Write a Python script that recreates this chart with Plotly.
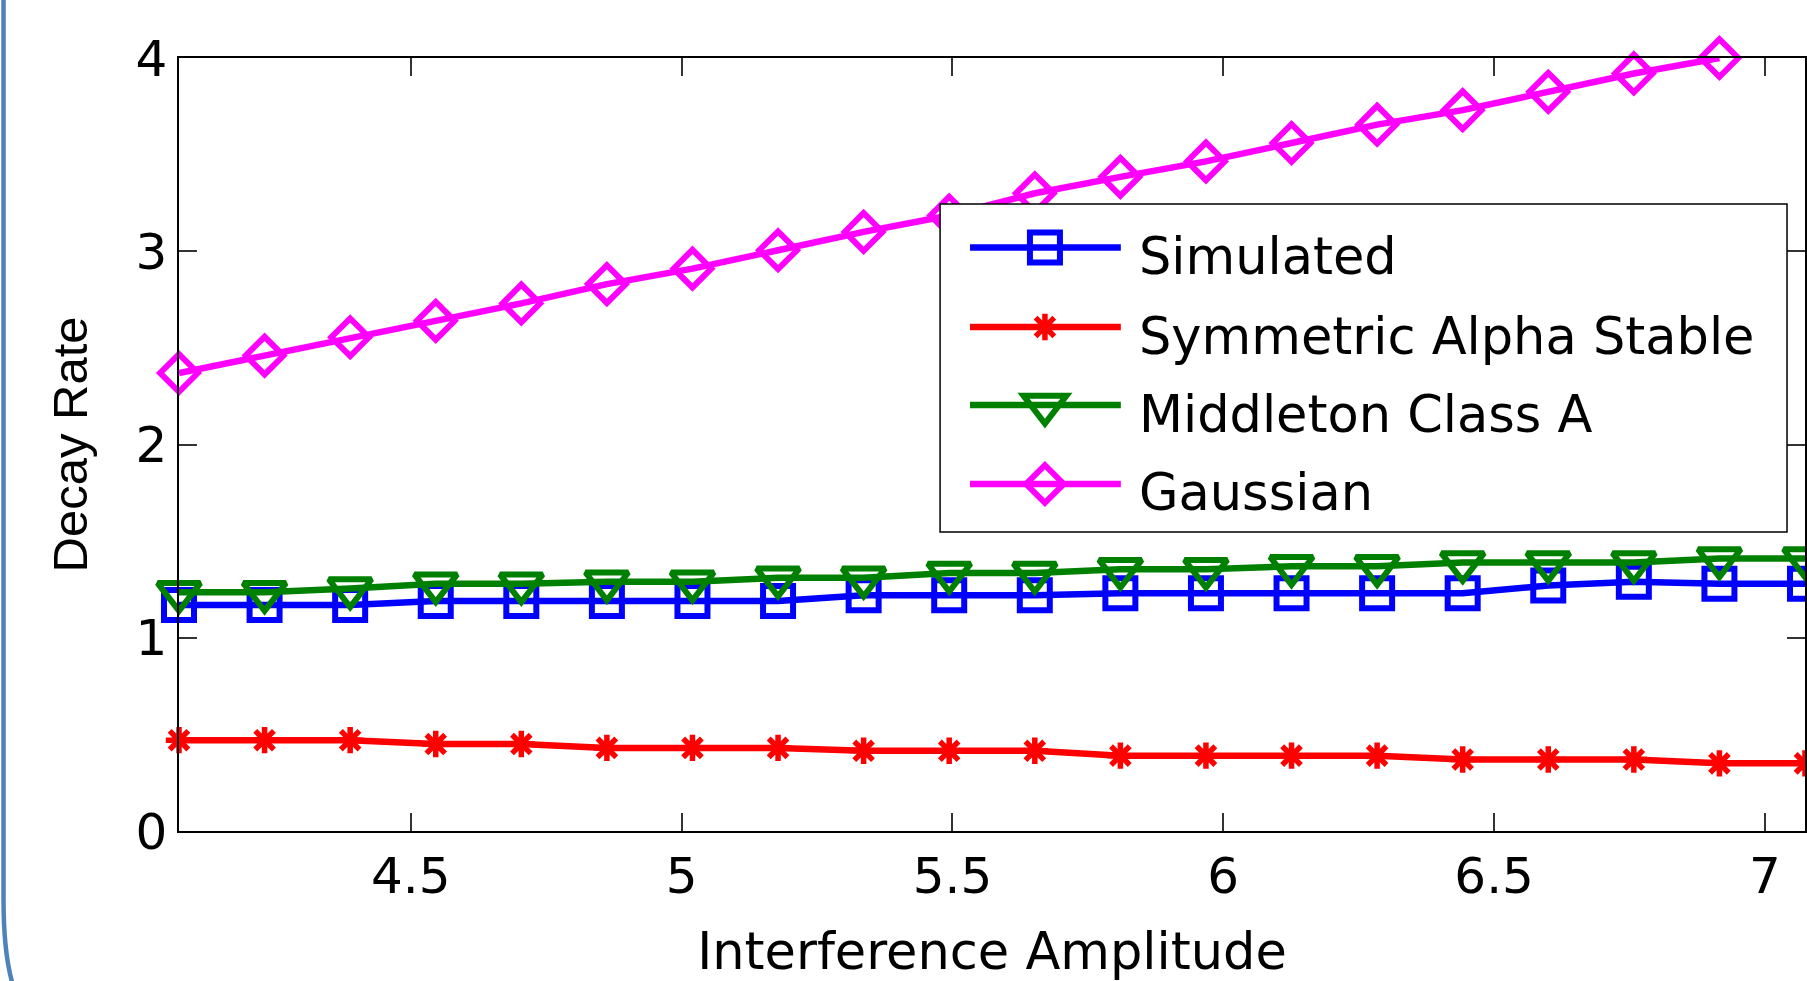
import plotly.graph_objects as go

# ---------------- data ----------------
amplitude = [4.072, 4.230, 4.388, 4.546, 4.704, 4.862, 5.020, 5.178, 5.336, 5.494,
             5.652, 5.810, 5.968, 6.126, 6.284, 6.442, 6.600, 6.758, 6.916, 7.074]
simulated = [1.17, 1.17, 1.17, 1.19, 1.19, 1.19, 1.19, 1.19, 1.22, 1.22,
             1.22, 1.23, 1.23, 1.23, 1.23, 1.23, 1.27, 1.29, 1.28, 1.28]
sym_alpha_stable = [0.47, 0.47, 0.47, 0.45, 0.45, 0.43, 0.43, 0.43, 0.415, 0.415,
                    0.415, 0.39, 0.39, 0.39, 0.39, 0.37, 0.37, 0.37, 0.35, 0.35]
middleton_a = [1.235, 1.235, 1.255, 1.28, 1.28, 1.29, 1.29, 1.31, 1.31, 1.335,
               1.335, 1.355, 1.355, 1.37, 1.37, 1.39, 1.39, 1.39, 1.41, 1.41]
gaussian = [2.37, 2.46, 2.555, 2.64, 2.73, 2.83, 2.91, 3.005, 3.10, 3.185,
            3.30, 3.385, 3.465, 3.56, 3.655, 3.73, 3.825, 3.92, 4.0]
series_names = ["Simulated", "Symmetric Alpha Stable", "Middleton Class A", "Gaussian"]
x_ticks = [4.5, 5, 5.5, 6, 6.5, 7]
y_ticks = [0, 1, 2, 3, 4]
x_title = "Interference Amplitude"
y_title = "Decay Rate"

# ---------------- styles ----------------
W, H = 1807, 981
ML, MR, MT, MB = 179, 0, 58, 150
PW, PH = W - ML - MR, H - MT - MB
FONT_WIDE = "DejaVu Sans"
FONT_Y = "Liberation Sans, Arial"
LINE_W = 6.5

styles = [
    dict(color="#0000FF", symbol="square-open", size=30, mlw=6),
    dict(color="#FF0000", symbol="asterisk-open", size=22, mlw=5.5),
    dict(color="#008000", symbol="triangle-down-open", size=37, mlw=6),
    dict(color="#FF00FF", symbol="diamond-open", size=29, mlw=6),
]
values = [simulated, sym_alpha_stable, middleton_a, gaussian]

fig = go.Figure()
for name, ys, st in zip(series_names, values, styles):
    fig.add_trace(go.Scatter(
        x=amplitude[:len(ys)], y=ys, name=name, mode="lines+markers",
        line=dict(color=st["color"], width=LINE_W),
        marker=dict(symbol=st["symbol"], size=st["size"],
                    line=dict(color=st["color"], width=st["mlw"])),
        cliponaxis=False, showlegend=False,
    ))


def px_x(px):
    return (px - ML) / PW


def px_y(py):
    return (H - MB - py) / PH


# ---------------- custom legend (MATLAB style) ----------------
shapes = []
annotations = []
shapes.append(dict(type="rect", xref="paper", yref="paper",
                   x0=px_x(941), x1=px_x(1789), y0=px_y(532), y1=px_y(204),
                   line=dict(color="black", width=1.5), fillcolor="white", layer="above"))
key_y = [247.5, 327, 405, 484]
marker_paths = [
    "M-15,-15H15V15H-15Z",
    "M0,13.2V-13.2M13.2,0H-13.2M9.35,9.35L-9.35,-9.35M9.35,-9.35L-9.35,9.35",
    "M-21.4,9.25H21.4L0,-18.5Z",
    "M18.85,0L0,18.85L-18.85,0L0,-18.85Z",
]
for k, (name, st) in enumerate(zip(series_names, styles)):
    ky = key_y[k]
    shapes.append(dict(type="line", xref="paper", yref="paper",
                       x0=px_x(971), x1=px_x(1122), y0=px_y(ky), y1=px_y(ky),
                       line=dict(color=st["color"], width=LINE_W), layer="above"))
    shapes.append(dict(type="path", xref="paper", yref="paper",
                       xsizemode="pixel", ysizemode="pixel",
                       xanchor=px_x(1046), yanchor=px_y(ky),
                       path=marker_paths[k],
                       line=dict(color=st["color"], width=st["mlw"]),
                       fillcolor="rgba(0,0,0,0)", layer="above"))
    annotations.append(dict(text=name, xref="paper", yref="paper",
                            x=px_x(1138), y=px_y(ky + 9), xanchor="left", yanchor="middle",
                            showarrow=False, font=dict(family=FONT_WIDE, size=51, color="black")))

# slide frame border on the left (decoration)
shapes.append(dict(type="path", xref="paper", yref="paper",
                   xsizemode="pixel", ysizemode="pixel",
                   xanchor=px_x(0), yanchor=px_y(0),
                   path="M3.3,10L3.3,-900Q3.3,-962 16,-995",
                   line=dict(color="#4F81BD", width=4.5), layer="above"))

axis_common = dict(
    showline=True, linecolor="black", linewidth=1.5, mirror="ticks",
    ticks="inside", ticklen=18, tickwidth=1.5, tickcolor="#333333",
    showgrid=False, zeroline=False,
    tickfont=dict(family=FONT_WIDE, size=50, color="black"),
)

fig.update_layout(
    width=W, height=H,
    margin=dict(l=ML, r=MR, t=MT, b=MB, pad=0),
    paper_bgcolor="white", plot_bgcolor="white",
    xaxis=dict(range=[amplitude[0], amplitude[-1]], tickvals=x_ticks,
               title=dict(text=x_title, font=dict(family=FONT_WIDE, size=51, color="black"),
                          standoff=34),
               **axis_common),
    yaxis=dict(range=[0, 4], tickvals=y_ticks,
               title=dict(text=y_title, font=dict(family=FONT_Y, size=49, color="black"),
                          standoff=32),
               **axis_common),
    shapes=shapes, annotations=annotations,
)

fig.write_html("out.html", config={"displayModeBar": False},
               post_script="document.body.style.margin='0';document.body.style.overflow='hidden';")
